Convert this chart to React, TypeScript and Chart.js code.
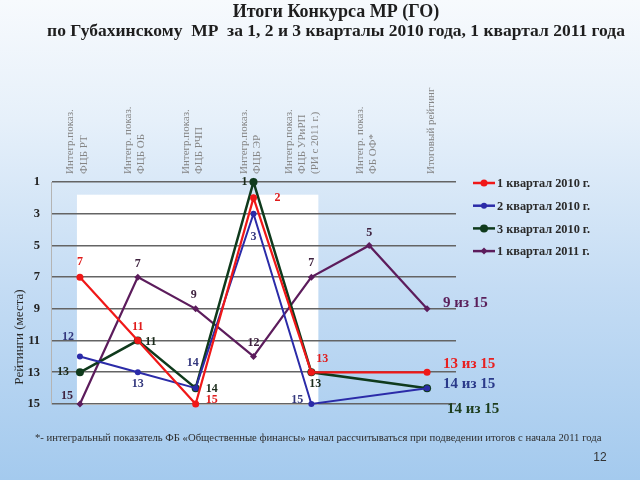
import React, { useEffect, useRef } from "react";
import { Chart, registerables } from "chart.js";

Chart.register(...registerables);

// ---------- DATA ----------
const categories: string[][] = [
  ["Интегр.показ.", "ФЦБ РТ"],
  ["Интегр. показ.", "ФЦБ ОБ"],
  ["Интегр.показ.", "ФЦБ РЧП"],
  ["Интегр.показ.", "ФЦБ ЭР"],
  ["Интегр.показ.", "ФЦБ УРиРП", "(РИ с 2011 г.)"],
  ["Интегр. показ.", "ФБ ОФ*"],
  ["Итоговый рейтинг"],
];

const seriesNames = ["1 квартал 2010 г.", "2 квартал 2010 г.", "3 квартал 2010 г.", "1 квартал 2011 г."];

const q1_2010: (number | null)[] = [7, 11, 15, 2, 13, null, 13];
const q2_2010: (number | null)[] = [12, 13, 14, 3, 15, null, 14];
const q3_2010: (number | null)[] = [13, 11, 14, 1, 13, null, 14];
const q1_2011: (number | null)[] = [15, 7, 9, 12, 7, 5, 9];

const totalPlaces = 15;
const yMin = 1;
const yMax = 15;
const yStep = 2;

const titleLines = [
  "Итоги Конкурса МР (ГО)",
  "по Губахинскому  МР  за 1, 2 и 3 кварталы 2010 года, 1 квартал 2011 года",
];
const yAxisTitle = "Рейтинги (места)";
const footnote =
  "*- интегральный показатель ФБ «Общественные финансы» начал рассчитываться при подведении итогов с начала 2011 года";
const pageNumber = "12";

// ---------- STYLES ----------
const SERIF = '"Liberation Serif", "Times New Roman", serif';

const seriesStyles = [
  {
    color: "#f01818",
    labelColor: "#e01c1c",
    width: 2.2,
    pointStyle: "circle",
    radius: 3.5,
    offsets: [[0, -15], [0, -14], [16, -4], [24, 0], [11, -13], null, null],
    final: [16, -8],
  },
  {
    color: "#2b2ba8",
    labelColor: "#34387e",
    width: 2,
    pointStyle: "circle",
    radius: 3,
    offsets: [[-12, -20], [0, 12], [-3, -25], [0, 23], [-14, -4], null, null],
    final: [16, -4],
  },
  {
    color: "#0f3a1c",
    labelColor: "#1b2b1b",
    width: 2.5,
    pointStyle: "circle",
    radius: 4,
    offsets: [[-17, 0], [13, 1], [16, 1], [-9, 0], [4, 12], null, null],
    final: [20, 21],
  },
  {
    color: "#5c1c5c",
    labelColor: "#3f223f",
    width: 2.2,
    pointStyle: "rectRot",
    radius: 3.5,
    offsets: [[-13, -8], [0, -13], [-2, -14], [0, -14], [0, -14], [0, -13], null],
    final: [16, -6],
  },
];

const finalColors = ["#e82020", "#2a3a8a", "#1d3d1d", "#5a1f5a"];

function drawMarker(ctx: CanvasRenderingContext2D, style: string, x: number, y: number, r: number, color: string) {
  ctx.save();
  ctx.fillStyle = color;
  ctx.beginPath();
  if (style === "rectRot") {
    ctx.moveTo(x, y - r);
    ctx.lineTo(x + r, y);
    ctx.lineTo(x, y + r);
    ctx.lineTo(x - r, y);
    ctx.closePath();
  } else {
    ctx.arc(x, y, r, 0, Math.PI * 2);
  }
  ctx.fill();
  ctx.restore();
}

const backgroundPlugin = {
  id: "slideBackground",
  beforeDraw(chart: any) {
    const { ctx, width, height } = chart;
    const x = chart.scales.x;
    const y = chart.scales.y;
    ctx.save();
    const g = ctx.createLinearGradient(0, 0, 0, height);
    g.addColorStop(0, "#f7fafd");
    g.addColorStop(0.25, "#e6f0fa");
    g.addColorStop(0.6, "#c4dcf4");
    g.addColorStop(1, "#a4caee");
    ctx.fillStyle = g;
    ctx.fillRect(0, 0, width, height);
    // white plot panel
    const l = x.getPixelForValue(0) - 3;
    const r = x.getPixelForValue(4) + 7;
    const t = y.getPixelForValue(1.8);
    const b = y.getPixelForValue(15) + 1;
    ctx.fillStyle = "#ffffff";
    ctx.fillRect(l, t, r - l, b - t);
    ctx.restore();
  },
};

const labelsPlugin = {
  id: "valueLabels",
  afterDatasetsDraw(chart: any) {
    const { ctx } = chart;
    ctx.save();
    ctx.textBaseline = "middle";
    chart.data.datasets.forEach((ds: any, di: number) => {
      const st = seriesStyles[di];
      const meta = chart.getDatasetMeta(di);
      const last = ds.data.length - 1;
      ds.data.forEach((v: number | null, i: number) => {
        if (v === null || v === undefined) return;
        const el = meta.data[i];
        if (!el) return;
        if (i === last) {
          ctx.font = `bold 15px ${SERIF}`;
          ctx.fillStyle = finalColors[di];
          ctx.textAlign = "left";
          ctx.fillText(`${v} из ${totalPlaces}`, el.x + st.final[0], el.y + st.final[1]);
          return;
        }
        const off = st.offsets[i];
        if (!off) return;
        ctx.font = `bold 12px ${SERIF}`;
        ctx.fillStyle = st.labelColor;
        ctx.textAlign = "center";
        ctx.fillText(String(v), el.x + off[0], el.y + off[1]);
      });
    });
    ctx.restore();
  },
};

const decorPlugin = {
  id: "slideText",
  afterDraw(chart: any) {
    const { ctx } = chart;
    const y = chart.scales.y;
    ctx.save();
    // title
    ctx.fillStyle = "#1e1e1e";
    ctx.textAlign = "center";
    ctx.textBaseline = "middle";
    ctx.font = `bold 18px ${SERIF}`;
    ctx.fillText(titleLines[0], 336, 12);
    ctx.font = `bold 17.5px ${SERIF}`;
    ctx.fillText(titleLines[1], 336, 31);

    // y axis title
    ctx.save();
    ctx.translate(20, 337);
    ctx.rotate(-Math.PI / 2);
    ctx.font = `13px ${SERIF}`;
    ctx.fillStyle = "#2a2a2a";
    ctx.fillText(yAxisTitle, 0, 0);
    ctx.restore();

    // legend
    const lx = 473;
    chart.data.datasets.forEach((ds: any, i: number) => {
      const st = seriesStyles[i];
      const ly = y.top + 1 + i * 22.7;
      ctx.strokeStyle = ds.borderColor;
      ctx.lineWidth = 2.5;
      ctx.beginPath();
      ctx.moveTo(lx, ly);
      ctx.lineTo(lx + 22, ly);
      ctx.stroke();
      drawMarker(ctx, st.pointStyle, lx + 11, ly, st.radius, ds.borderColor);
      ctx.font = `bold 12.3px ${SERIF}`;
      ctx.fillStyle = "#2a2a2a";
      ctx.textAlign = "left";
      ctx.fillText(ds.label, lx + 24, ly + 1);
    });

    // footnote
    ctx.font = `10.7px ${SERIF}`;
    ctx.fillStyle = "#2e2e2e";
    ctx.textAlign = "left";
    ctx.fillText(footnote, 35, 438);

    ctx.font = `12px "Liberation Sans", Arial, sans-serif`;
    ctx.textAlign = "center";
    ctx.fillStyle = "#333";
    ctx.fillText(pageNumber, 600, 458);
    ctx.restore();
  },
};

export default function App() {
  const ref = useRef<HTMLCanvasElement | null>(null);

  useEffect(() => {
    if (!ref.current) return;
    const allSeries = [q1_2010, q2_2010, q3_2010, q1_2011];
    const chart = new Chart(ref.current, {
      type: "line",
      data: {
        labels: categories as any,
        datasets: allSeries.map((d, i) => ({
          label: seriesNames[i],
          data: d,
          borderColor: seriesStyles[i].color,
          backgroundColor: seriesStyles[i].color,
          borderWidth: seriesStyles[i].width,
          pointStyle: seriesStyles[i].pointStyle as any,
          pointRadius: seriesStyles[i].radius,
          pointBorderWidth: 0,
          pointBackgroundColor: seriesStyles[i].color,
          spanGaps: true,
          tension: 0,
          clip: false as any,
        })),
      },
      options: {
        responsive: false,
        animation: false,
        devicePixelRatio: 1,
        layout: { padding: { left: 0, right: 184, top: 0, bottom: 76 } },
        plugins: {
          legend: { display: false },
          tooltip: { enabled: false },
          title: { display: false },
        },
        scales: {
          x: {
            type: "category",
            position: "top",
            offset: true,
            grid: { display: false, drawTicks: false },
            border: { display: false },
            ticks: {
              autoSkip: false,
              minRotation: 90,
              maxRotation: 90,
              padding: 8,
              labelOffset: 17,
              font: { family: SERIF, size: 11, lineHeight: 1.2 },
              color: "#858585",
            },
            afterFit: (s: any) => {
              s.height = 182;
            },
          },
          y: {
            min: yMin,
            max: yMax,
            reverse: true,
            ticks: {
              stepSize: yStep,
              padding: 11,
              font: { family: SERIF, size: 12.5, weight: "bold" },
              color: "#222222",
            },
            grid: { color: "#646464", lineWidth: 1.6, drawTicks: false },
            border: { display: true, color: "#b4b4b4", width: 1 },
            afterFit: (s: any) => {
              s.width = 51;
            },
          },
        },
      },
      plugins: [backgroundPlugin, labelsPlugin, decorPlugin],
    });
    return () => chart.destroy();
  }, []);

  return (
    <div style={{ position: "fixed", left: 0, top: 0, width: 640, height: 480 }}>
      <canvas ref={ref} width={640} height={480} style={{ width: 640, height: 480, display: "block" }} />
    </div>
  );
}
